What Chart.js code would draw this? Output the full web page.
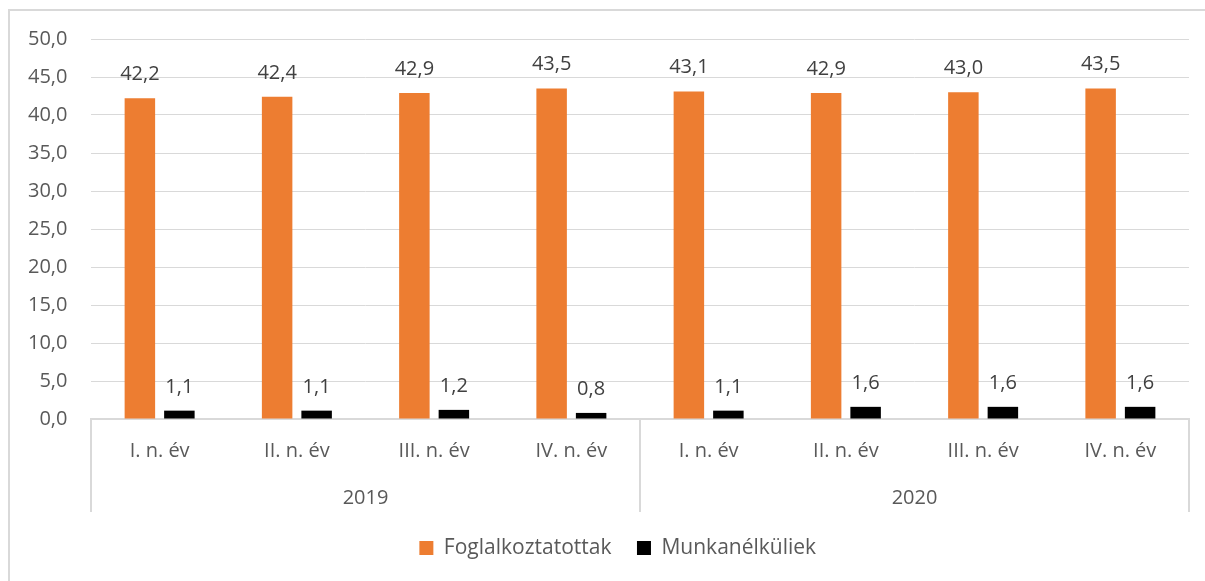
<!DOCTYPE html>
<html>
<head>
<meta charset="utf-8">
<script src="https://cdn.jsdelivr.net/npm/chart.js@4.4.0/dist/chart.umd.min.js"></script>
<style>
  html, body { margin: 0; padding: 0; background: #fff; overflow: hidden; }
  #frame { position: absolute; left: 8px; top: 9px; width: 1300px; height: 700px; border: 2px solid #d9d9d9; }
  #myChart { position: absolute; left: 0; top: 0; }
</style>
</head>
<body>
<div id="frame"></div>
<canvas id="myChart" width="1205" height="581"></canvas>
<script>
let quarters = ["I. n. év", "II. n. év", "III. n. év", "IV. n. év", "I. n. év", "II. n. év", "III. n. év", "IV. n. év"];
let years = ["2019", "2020"];
let employed = [42.2, 42.4, 42.9, 43.5, 43.1, 42.9, 43.0, 43.5];
let unemployed = [1.1, 1.1, 1.2, 0.8, 1.1, 1.6, 1.6, 1.6];
let yTicks = [0, 5, 10, 15, 20, 25, 30, 35, 40, 45, 50];

const grey = "#d9d9d9";
const textGrey = "#595959";

function fmt(v) {
  return Number(v).toFixed(1).replace(".", ",");
}

// value labels above each bar
const barLabels = {
  id: "barLabels",
  afterDatasetsDraw(chart) {
    const ctx = chart.ctx;
    ctx.save();
    ctx.font = "20px 'Open Sans'";
    ctx.fillStyle = "#404040";
    ctx.textAlign = "center";
    ctx.textBaseline = "alphabetic";
    chart.data.datasets.forEach((ds, i) => {
      chart.getDatasetMeta(i).data.forEach((bar, j) => {
        ctx.fillText(fmt(ds.data[j]), bar.x, bar.y - 18);
      });
    });
    ctx.restore();
  }
};

Chart.defaults.font.family = "'Open Sans'";
Chart.defaults.font.size = 20;
Chart.defaults.color = textGrey;

/*global Chart*/
var ctx = document.getElementById("myChart").getContext("2d");
var chart = new Chart(ctx, {
  type: "bar",
  data: {
    labels: quarters,
    datasets: [{
      label: "Foglalkoztatottak",
      data: employed,
      backgroundColor: "#ED7D31",
      borderWidth: 0,
      categoryPercentage: 0.5756,
      barPercentage: 0.772
    }, {
      label: "Munkanélküliek",
      data: unemployed,
      backgroundColor: "#000000",
      borderWidth: 0,
      categoryPercentage: 0.5756,
      barPercentage: 0.772
    }]
  },
  plugins: [barLabels],
  options: {
    responsive: false,
    animation: false,
    layout: { padding: { top: 39, right: 16, bottom: 12.5, left: 46.5 } },
    plugins: {
      tooltip: { enabled: false },
      legend: {
        position: "bottom",
        labels: {
          boxWidth: 14,
          boxHeight: 14,
          padding: 25.5,
          color: textGrey,
          font: { size: 21 }
        }
      }
    },
    scales: {
      y: {
        min: 0,
        max: 50,
        afterBuildTicks: s => { s.ticks = yTicks.map(v => ({ value: v })); },
        afterFit: s => { s.width = 44.5; },
        grid: { color: grey, lineWidth: 1, drawTicks: false },
        border: { display: false },
        ticks: { mirror: true, crossAlign: "far", padding: -63, color: textGrey, callback: v => fmt(v) }
      },
      x: {
        offset: true,
        afterFit: s => { s.height = 51; },
        grid: {
          offset: true,
          drawOnChartArea: false,
          drawTicks: true,
          tickLength: 51,
          lineWidth: 2,
          color: c => (c.index === undefined || c.index % 4 === 0) ? grey : "transparent"
        },
        border: { color: grey, width: 2 },
        ticks: { padding: -31, autoSkip: false, maxRotation: 0, color: textGrey }
      },
      x2: {
        type: "category",
        axis: "x",
        position: "bottom",
        weight: 1,
        labels: years,
        offset: true,
        afterFit: s => { s.height = 42; },
        grid: {
          offset: true,
          drawOnChartArea: false,
          drawTicks: true,
          tickLength: 42,
          lineWidth: 2,
          color: grey
        },
        border: { display: false },
        ticks: { padding: -26, autoSkip: false, maxRotation: 0, color: textGrey }
      }
    }
  }
});
</script>
</body>
</html>
